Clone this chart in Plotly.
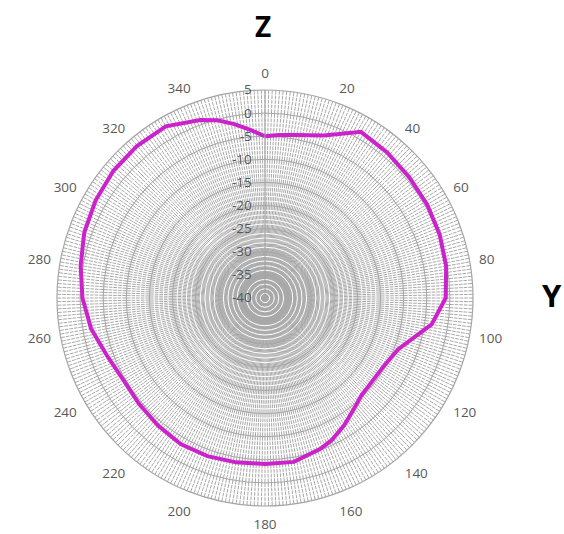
import plotly.graph_objects as go

# Radiation pattern in the YZ plane (gain in dB vs. angle in degrees)
angle_deg = [0, 5, 10, 20, 30, 40, 50, 60, 70, 80, 90, 99, 111, 120, 130, 135,
             140, 148, 155, 160, 170, 180, 190, 200, 210, 220, 230, 240, 250,
             260, 270, 280, 290, 300, 310, 320, 330, 340, 345, 350, 355, 360]
gain_db = [-5.0, -4.6, -4.2, -2.6, 1.5, 1.1, 0.7, 0.5, 0.2, -0.2, -0.9, -3.5,
           -9.1, -10.4, -10.6, -10.4, -9.5, -7.6, -6.0, -5.2, -4.0, -4.1, -3.9,
           -3.6, -3.5, -4.0, -4.4, -4.6, -3.6, -1.8, -0.5, 0.5, 1.6, 2.3, 2.8,
           3.0, 2.9, 1.0, -0.2, -1.8, -3.5, -5.0]

r_min, r_max = -40, 5
major_r = list(range(-40, 6, 5))
major_r_text = [str(v) for v in major_r]
minor_r = [v for v in range(-39, 5) if v % 5 != 0]
spoke_deg = list(range(0, 360, 1))
label_deg = list(range(0, 360, 20))

dom = dict(x=[57 / 564, 473 / 564], y=[1 - 507 / 534, 1 - 89 / 534])
tick_font = dict(family="Open Sans, sans-serif", size=13.5, color="#595959")

fig = go.Figure()

# placeholders so every stacked polar layer gets rendered
for sp in ["polar", "polar2"]:
    fig.add_trace(go.Scatterpolar(r=[r_min], theta=[0], mode="lines",
                                  subplot=sp, showlegend=False, hoverinfo="skip"))

fig.add_trace(go.Scatterpolar(
    r=gain_db, theta=angle_deg, mode="lines", subplot="polar3",
    line=dict(color="#cc22cc", width=4), showlegend=False,
))

common_ang = dict(direction="clockwise", rotation=90)

fig.update_layout(
    width=564, height=534,
    margin=dict(l=0, r=0, t=0, b=0),
    paper_bgcolor="white",
    polar=dict(
        domain=dom, bgcolor="white",
        angularaxis=dict(**common_ang, tickvals=spoke_deg, showticklabels=False,
                         ticks="", showline=False, gridcolor="#a9a9a9", gridwidth=1),
        radialaxis=dict(range=[r_min, r_max], showgrid=False, showticklabels=False,
                        ticks="", showline=False),
    ),
    polar2=dict(
        domain=dom, bgcolor="rgba(0,0,0,0)",
        angularaxis=dict(**common_ang, showgrid=False, showticklabels=False,
                         ticks="", showline=False),
        radialaxis=dict(range=[r_min, r_max], tickvals=minor_r, showticklabels=False,
                        ticks="", showline=False, gridcolor="white", gridwidth=1.3),
    ),
    polar3=dict(
        domain=dom, bgcolor="rgba(0,0,0,0)",
        angularaxis=dict(**common_ang, tickvals=label_deg, showgrid=False,
                         showline=True, linecolor="#a6a6a6", linewidth=1.2,
                         ticks="outside", ticklen=6, tickcolor="rgba(0,0,0,0)",
                         tickfont=tick_font),
        radialaxis=dict(range=[r_min, r_max], tickvals=major_r, ticktext=major_r_text,
                        angle=90, side="counterclockwise", tickangle=90,
                        showline=True, linecolor="#a0a0a0", linewidth=1,
                        gridcolor="#a6a6a6", gridwidth=1.2,
                        ticks="outside", ticklen=8, tickcolor="rgba(0,0,0,0)",
                        tickfont=tick_font),
    ),
    annotations=[
        dict(text="<b>Z</b>", x=263 / 564, y=1 - 26 / 534, xref="paper", yref="paper",
             xanchor="center", yanchor="middle", showarrow=False,
             font=dict(family="Open Sans, sans-serif", size=28, color="black")),
        dict(text="<b>Y</b>", x=552 / 564, y=1 - 295 / 534, xref="paper", yref="paper",
             xanchor="center", yanchor="middle", showarrow=False,
             font=dict(family="Open Sans, sans-serif", size=31, color="black")),
    ],
)

fig.write_html("out.html")
